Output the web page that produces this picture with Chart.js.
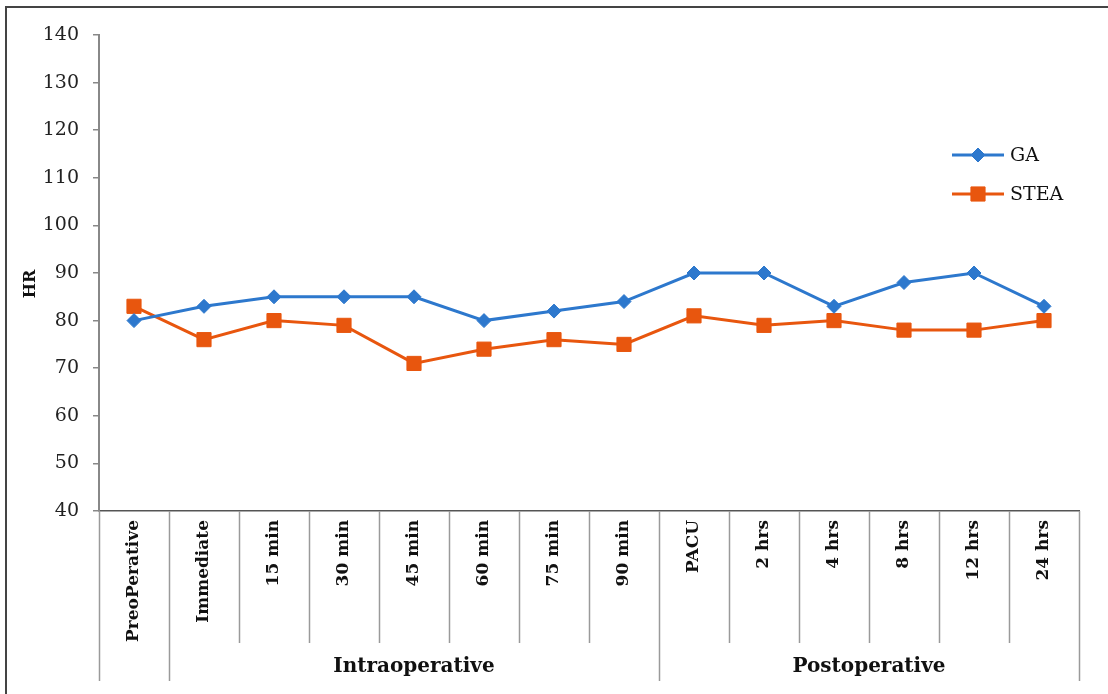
<!DOCTYPE html>
<html>
<head>
<meta charset="utf-8">
<script src="https://cdn.jsdelivr.net/npm/chart.js@4"></script>
<style>
  html, body { margin: 0; padding: 0; background: #fff; }
  canvas { display: block; }
</style>
</head>
<body>
<canvas id="hrChart" width="1108" height="694"></canvas>
<script>
// values
var categories = ['PreoPerative', 'Immediate', '15 min', '30 min', '45 min', '60 min', '75 min', '90 min',
                  'PACU', '2 hrs', '4 hrs', '8 hrs', '12 hrs', '24 hrs'];
var gaValues   = [80, 83, 85, 85, 85, 80, 82, 84, 90, 90, 83, 88, 90, 83];
var steaValues = [83, 76, 80, 79, 71, 74, 76, 75, 81, 79, 80, 78, 78, 80];
var seriesNames = ['GA', 'STEA'];
var groupLabels = ['Intraoperative', 'Postoperative'];
var groupFirst = [1, 8];
var groupLast = [7, 13];
var yMin = 40, yMax = 140, yStep = 10;

var blue = '#2D78CD';
var orange = '#E8560E';
var serif = "'DejaVu Serif', 'Liberation Serif', serif";

// separators, group labels, legend, axis title and frame
var extras = {
  id: 'extras',
  afterDraw: function(chart) {
    var ctx = chart.ctx;
    var xs = chart.scales.x;
    var area = chart.chartArea;
    var half = (xs.getPixelForValue(1) - xs.getPixelForValue(0)) / 2;
    var n = categories.length;

    ctx.save();
    ctx.strokeStyle = '#9a9a9a';
    ctx.lineWidth = 1.5;
    for (var i = 0; i <= n; i++) {
      var px = Math.round(xs.getPixelForValue(i) - half) + 0.5;
      var edge = i === 0 || i === n || groupFirst.indexOf(i) >= 0;
      ctx.beginPath();
      ctx.moveTo(px, area.bottom);
      ctx.lineTo(px, edge ? 681 : 643);
      ctx.stroke();
    }

    ctx.fillStyle = '#111';
    ctx.font = 'bold 20px ' + serif;
    ctx.textAlign = 'center';
    ctx.textBaseline = 'middle';
    for (var g = 0; g < groupLabels.length; g++) {
      var a = xs.getPixelForValue(groupFirst[g]) - half;
      var b = xs.getPixelForValue(groupLast[g]) + half;
      ctx.fillText(groupLabels[g], (a + b) / 2, 667);
    }

    // y axis title
    ctx.save();
    ctx.translate(31, 284);
    ctx.rotate(-Math.PI / 2);
    ctx.font = 'bold 16px ' + serif;
    ctx.fillText('HR', 0, 0);
    ctx.restore();

    // legend
    var ly = [155, 194];
    chart.data.datasets.forEach(function(ds, k) {
      ctx.strokeStyle = ds.borderColor;
      ctx.lineWidth = ds.borderWidth;
      ctx.beginPath();
      ctx.moveTo(952, ly[k]);
      ctx.lineTo(1004, ly[k]);
      ctx.stroke();
      ctx.fillStyle = ds.pointBackgroundColor;
      ctx.strokeStyle = ds.pointBorderColor;
      ctx.lineWidth = 1;
      Chart.helpers.drawPoint(ctx, {
        pointStyle: ds.pointStyle, radius: ds.pointRadius, rotation: 0, borderWidth: 1
      }, 978, ly[k]);
      ctx.fillStyle = '#111';
      ctx.font = '19px ' + serif;
      ctx.textAlign = 'left';
      ctx.fillText(ds.label, 1010, ly[k] + 1);
    });

    // outer frame (top and left edges only are visible)
    ctx.strokeStyle = '#444';
    ctx.lineWidth = 2;
    ctx.beginPath();
    ctx.moveTo(6, 694);
    ctx.lineTo(6, 7);
    ctx.lineTo(1108, 7);
    ctx.stroke();
    ctx.restore();
  }
};

new Chart(document.getElementById('hrChart').getContext('2d'), {
  type: 'line',
  data: {
    labels: categories,
    datasets: [{
      label: seriesNames[0],
      data: gaValues,
      borderColor: blue,
      backgroundColor: blue,
      pointBackgroundColor: blue,
      pointBorderColor: blue,
      borderWidth: 3,
      pointStyle: 'rectRot',
      pointRadius: 7,
      pointBorderWidth: 1,
      tension: 0
    }, {
      label: seriesNames[1],
      data: steaValues,
      borderColor: orange,
      backgroundColor: orange,
      pointBackgroundColor: orange,
      pointBorderColor: orange,
      borderWidth: 3,
      pointStyle: 'rect',
      pointRadius: 10,
      pointBorderWidth: 1,
      tension: 0
    }]
  },
  options: {
    responsive: false,
    animation: false,
    layout: { padding: { left: 0, right: 29, top: 35, bottom: 0 } },
    plugins: {
      legend: { display: false },
      tooltip: { enabled: false }
    },
    scales: {
      x: {
        offset: true,
        grid: { display: false, drawTicks: false },
        border: { color: '#555', width: 1.5 },
        ticks: {
          autoSkip: false,
          minRotation: 90,
          maxRotation: 90,
          padding: 9,
          color: '#111',
          font: { family: serif, size: 17, weight: 'bold' }
        },
        afterFit: function(scale) { scale.height = 183; }
      },
      y: {
        min: yMin,
        max: yMax,
        ticks: {
          stepSize: yStep,
          padding: 14,
          color: '#222',
          font: { family: serif, size: 19 }
        },
        grid: { drawOnChartArea: false, drawTicks: true, tickLength: 6, color: '#888', lineWidth: 1.5 },
        border: { color: '#888', width: 2 },
        afterFit: function(scale) { scale.width = 99; }
      }
    }
  },
  plugins: [extras]
});
</script>
</body>
</html>
